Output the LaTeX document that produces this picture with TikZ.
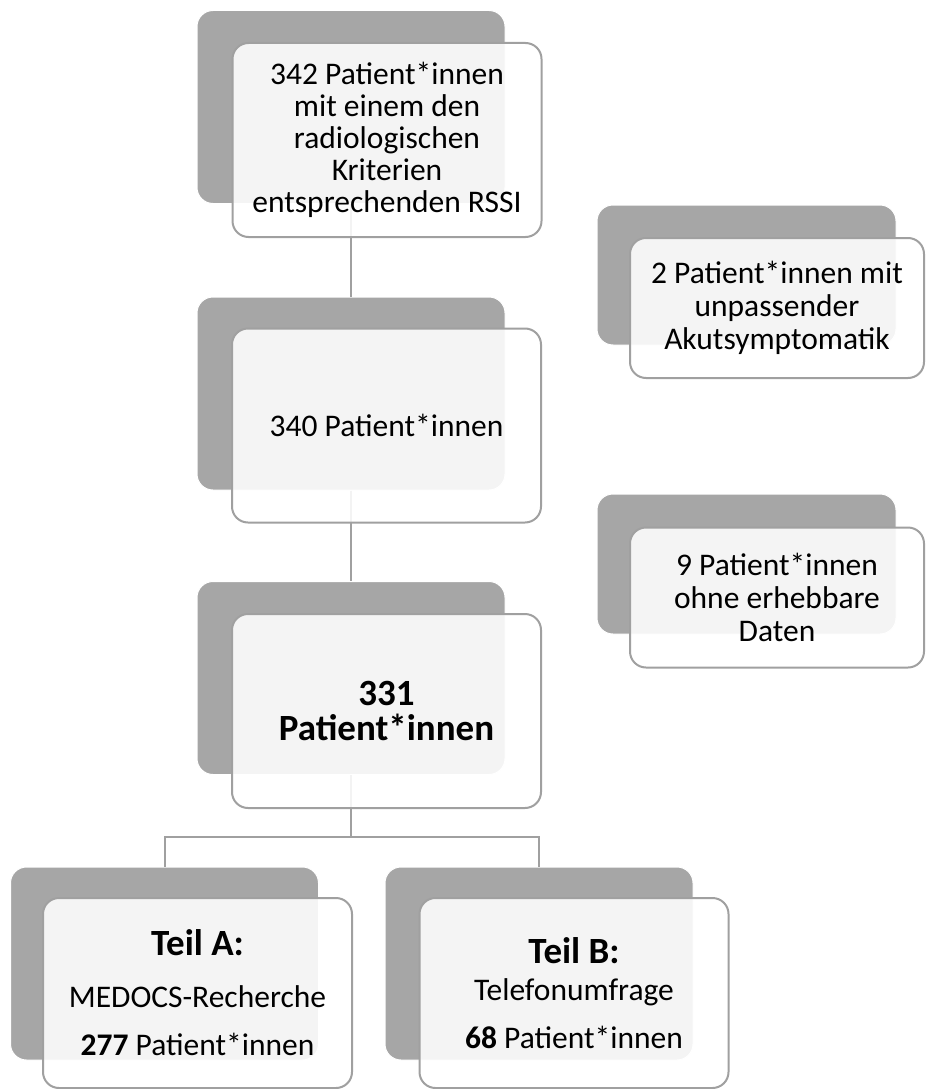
\documentclass[tikz,border=0pt]{standalone}
\usepackage{fontspec}
\setmainfont{Carlito}
\definecolor{backgray}{RGB}{166,166,166}
\definecolor{edgegray}{RGB}{160,160,160}
\begin{document}
\begin{tikzpicture}[x=1pt,y=-1pt,
  backbox/.style={rectangle, rounded corners=16pt, fill=backgray, draw=white, line width=1pt,
    minimum width=308pt, minimum height=193pt, inner sep=0pt},
  sideback/.style={backbox, minimum width=299pt, minimum height=140pt},
  frontbox/.style={rectangle, rounded corners=16pt, fill=white, fill opacity=0.88, draw opacity=1,
    text opacity=1, draw=edgegray, line width=2pt, minimum width=309pt, minimum height=194pt,
    inner sep=0pt, align=center, text=black, font=\fontsize{31.5}{32}\selectfont},
  sidefront/.style={frontbox, minimum width=294pt, minimum height=140pt, font=\fontsize{31.5}{33}\selectfont},
  bottomfront/.style={frontbox, minimum height=190pt, font=\fontsize{31.5}{33}\selectfont},
  link/.style={draw=edgegray, line width=2pt}
]
\useasboundingbox (0,0) rectangle (926,1089);

% back boxes
\node[backbox] (b1) at (351,107) {};
\node[backbox] (b2) at (351,393.5) {};
\node[backbox] (b3) at (351,678) {};
\node[backbox] (bA) at (164.5,963.5) {};
\node[backbox] (bB) at (539,963.5) {};
\node[sideback] (bS1) at (746.5,275) {};
\node[sideback] (bS2) at (746.5,564) {};

% connectors
\coordinate (split) at (351,837);
\draw[link] (b1.south) -- (b2.north);
\draw[link] (b2.south) -- (b3.north);
\draw[link] (b3.south) -- (split);
\draw[link] (split) -| (bA.north);
\draw[link] (split) -| (bB.north);

% front boxes
\node[frontbox] (f1) at (387,140) {342 Patient*innen\\mit einem den\\radiologischen\\Kriterien\\entsprechenden RSSI};
\node[frontbox] (f2) at (386.5,425.5) {340 Patient*innen};
\node[frontbox, font=\fontsize{37}{35}\selectfont\bfseries] (f3) at (386.5,711) {331\\Patient*innen};
\node[sidefront] (fS1) at (777,308) {2 Patient*innen mit\\unpassender\\Akutsymptomatik};
\node[sidefront] (fS2) at (777,597.5) {9 Patient*innen\\ohne erhebbare\\Daten};
\node[bottomfront] (fA) at (197.5,993) {{\fontsize{37}{40}\selectfont\bfseries Teil A:}\\[19pt]MEDOCS-Recherche\\[15pt]\textbf{277} Patient*innen};
\node[bottomfront] (fB) at (574,993) {{\fontsize{37}{40}\selectfont\bfseries Teil B:}\\[4pt]Telefonumfrage\\[15pt]\textbf{68} Patient*innen};
\end{tikzpicture}
\end{document}
